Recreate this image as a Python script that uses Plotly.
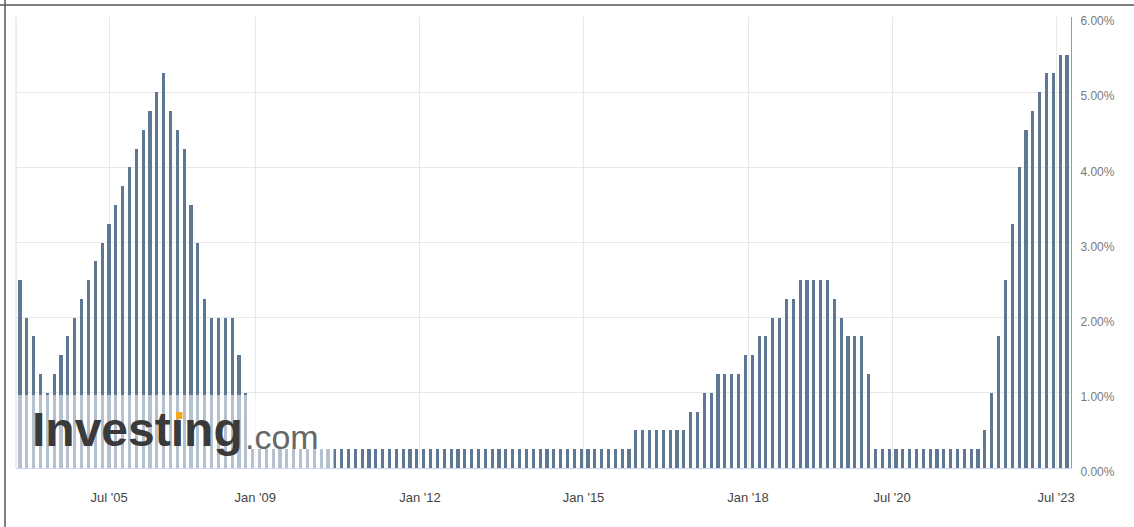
import numpy as np
import pandas as pd
import plotly.graph_objects as go

# FOMC decision dates (upper bound of target rate, %)
meeting_dates = [
    "2001-10-02", "2001-11-06", "2001-12-11",
    "2002-11-06",
    "2003-06-25",
    "2004-06-30", "2004-08-10", "2004-09-21", "2004-11-10", "2004-12-14",
    "2005-02-02", "2005-03-22", "2005-05-03", "2005-06-30", "2005-08-09", "2005-09-20", "2005-11-01", "2005-12-13",
    "2006-01-31", "2006-03-28", "2006-05-10", "2006-06-29",
    "2007-09-18", "2007-10-31", "2007-12-11",
    "2008-01-22", "2008-01-30", "2008-03-18", "2008-04-30", "2008-06-25", "2008-08-05", "2008-09-16",
    "2008-10-08", "2008-10-29", "2008-12-16",
    "2009-01-28", "2009-03-18", "2009-04-29", "2009-06-24", "2009-08-12", "2009-09-23", "2009-11-04", "2009-12-16",
    "2010-01-27", "2010-03-16", "2010-04-28", "2010-06-23", "2010-08-10", "2010-09-21", "2010-11-03", "2010-12-14",
    "2011-01-26", "2011-03-15", "2011-04-27", "2011-06-22", "2011-08-09", "2011-09-21", "2011-11-02", "2011-12-13",
    "2012-01-25", "2012-03-13", "2012-04-25", "2012-06-20", "2012-08-01", "2012-09-13", "2012-10-24", "2012-12-12",
    "2013-01-30", "2013-03-20", "2013-05-01", "2013-06-19", "2013-07-31", "2013-09-18", "2013-10-30", "2013-12-18",
    "2014-01-29", "2014-03-19", "2014-04-30", "2014-06-18", "2014-07-30", "2014-09-17", "2014-10-29", "2014-12-17",
    "2015-01-28", "2015-03-18", "2015-04-29", "2015-06-17", "2015-07-29", "2015-09-17", "2015-10-28", "2015-12-16",
    "2016-01-27", "2016-03-16", "2016-04-27", "2016-06-15", "2016-07-27", "2016-09-21", "2016-11-02", "2016-12-14",
    "2017-02-01", "2017-03-15", "2017-05-03", "2017-06-14", "2017-07-26", "2017-09-20", "2017-11-01", "2017-12-13",
    "2018-01-31", "2018-03-21", "2018-05-02", "2018-06-13", "2018-08-01", "2018-09-26", "2018-11-08", "2018-12-19",
    "2019-01-30", "2019-03-20", "2019-05-01", "2019-06-19", "2019-07-31", "2019-09-18", "2019-10-30", "2019-12-11",
    "2020-01-29", "2020-03-03", "2020-03-15", "2020-04-29", "2020-06-10", "2020-07-29", "2020-09-16", "2020-11-05", "2020-12-16",
    "2021-01-27", "2021-03-17", "2021-04-28", "2021-06-16", "2021-07-28", "2021-09-22", "2021-11-03", "2021-12-15",
    "2022-01-26", "2022-03-16", "2022-05-04", "2022-06-15", "2022-07-27", "2022-09-21", "2022-11-02", "2022-12-14",
    "2023-02-01", "2023-03-22", "2023-05-03", "2023-06-14", "2023-07-26", "2023-09-20",
]

rates_2001_2008 = [2.5, 2.0, 1.75, 1.25, 1.0, 1.25, 1.5, 1.75, 2.0, 2.25,
                   2.5, 2.75, 3.0, 3.25, 3.5, 3.75, 4.0, 4.25, 4.5, 4.75, 5.0, 5.25,
                   4.75, 4.5, 4.25, 3.5, 3.0, 2.25, 2.0, 2.0, 2.0, 2.0, 1.5, 1.0, 0.25]
rates_2009_2015 = [0.25] * 55 + [0.5]
rates_2016_2019 = [0.5, 0.5, 0.5, 0.5, 0.5, 0.5, 0.5, 0.75,
                   0.75, 1.0, 1.0, 1.25, 1.25, 1.25, 1.25, 1.5,
                   1.5, 1.75, 1.75, 2.0, 2.0, 2.25, 2.25, 2.5,
                   2.5, 2.5, 2.5, 2.5, 2.25, 2.0, 1.75, 1.75]
rates_2020_2023 = [1.75, 1.25, 0.25, 0.25, 0.25, 0.25, 0.25, 0.25, 0.25,
                   0.25, 0.25, 0.25, 0.25, 0.25, 0.25, 0.25, 0.25,
                   0.25, 0.5, 1.0, 1.75, 2.5, 3.25, 4.0, 4.5,
                   4.75, 5.0, 5.25, 5.25, 5.5, 5.5]
rates = rates_2001_2008 + rates_2009_2015 + rates_2016_2019 + rates_2020_2023

tick_dates = ["2005-07-01", "2009-01-01", "2012-01-01", "2015-01-01", "2018-01-01", "2020-07-01", "2023-07-01"]
tick_labels = ["Jul '05", "Jan '09", "Jan '12", "Jan '15", "Jan '18", "Jul '20", "Jul '23"]
y_ticks = [0, 1, 2, 3, 4, 5, 6]

# ordinal axis: bars equally spaced, ticks interpolated between meeting dates
idx = np.arange(len(rates))
ts = pd.to_datetime(meeting_dates).astype("int64").to_numpy()
tick_pos = np.interp(pd.to_datetime(tick_dates).astype("int64").to_numpy(), ts, idx)

W, H = 1134, 527
ML, MR, MT, MB = 16, 63, 17, 59
PW, PH = W - ML - MR, H - MT - MB


def px_x(p):
    return (p - ML) / PW


def px_y(p):
    return (H - MB - p) / PH


fig = go.Figure()
fig.add_trace(go.Bar(
    x=idx, y=rates, width=0.46,
    marker=dict(color="#5d7794", line=dict(width=0)),
    hovertext=meeting_dates, showlegend=False,
))

font = "Liberation Sans, Arial, sans-serif"
shapes = [
    # watermark translucent background
    dict(type="rect", xref="paper", yref="paper", x0=px_x(16), x1=px_x(334), y0=px_y(468), y1=px_y(395),
         fillcolor="rgba(255,255,255,0.55)", line=dict(width=0), layer="above"),
    # orange dot of logo
    dict(type="rect", xref="paper", yref="paper", x0=px_x(176), x1=px_x(182.5), y0=px_y(419), y1=px_y(412),
         fillcolor="#f4a81c", line=dict(width=0), layer="above"),
    # left plot edge line
    dict(type="line", xref="paper", yref="paper", x0=0, x1=0, y0=0, y1=1,
         line=dict(color="#d8d8d8", width=1)),
    # frame (top + left), positioned in pixels relative to the plot's top-left corner
    dict(type="line", xref="paper", yref="paper", xsizemode="pixel", ysizemode="pixel",
         xanchor=0, yanchor=1, x0=-ML, x1=W, y0=MT - 5, y1=MT - 5,
         line=dict(color="#555555", width=1.5)),
    dict(type="line", xref="paper", yref="paper", xsizemode="pixel", ysizemode="pixel",
         xanchor=0, yanchor=1, x0=5 - ML, x1=5 - ML, y0=MT, y1=MT - H,
         line=dict(color="#555555", width=1.5)),
]

annotations = [
    dict(xref="paper", yref="paper", x=px_x(30), y=px_y(458), xanchor="left", yanchor="bottom",
         text="<b>Invest\u0131ng</b>", showarrow=False,
         font=dict(family=font, size=48, color="#3a3a3a")),
    dict(xref="paper", yref="paper", x=px_x(243), y=px_y(458), xanchor="left", yanchor="bottom",
         text=".com", showarrow=False,
         font=dict(family=font, size=34, color="#666666")),
]

fig.update_layout(
    width=W, height=H,
    margin=dict(l=ML, r=MR, t=MT, b=MB),
    paper_bgcolor="white", plot_bgcolor="white",
    bargap=0,
    shapes=shapes, annotations=annotations,
    xaxis=dict(
        range=[-0.58, len(rates) - 1 + 0.58],
        tickmode="array", tickvals=tick_pos, ticktext=tick_labels,
        showgrid=True, gridcolor="#e8e8e8", gridwidth=1,
        showline=True, linecolor="#ccd6eb", linewidth=1,
        ticks="", ticklabelstandoff=17,
        tickfont=dict(family=font, size=13, color="#444444"),
        zeroline=False, fixedrange=True,
    ),
    yaxis=dict(
        side="right", range=[0, 6],
        tickmode="array", tickvals=y_ticks, ticktext=[f"{v:.2f}%" for v in y_ticks],
        showgrid=True, gridcolor="#e8e8e8", gridwidth=1,
        showline=True, linecolor="#9a9a9a", linewidth=1,
        ticks="", ticklabelstandoff=6, ticklabelshift=4,
        tickfont=dict(family=font, size=12, color="#7a7a7a"),
        zeroline=False, fixedrange=True,
    ),
)

fig.write_html(
    "out.html",
    config={"displayModeBar": False},
    post_script="document.body.style.margin='0';document.body.style.overflow='hidden';",
)
